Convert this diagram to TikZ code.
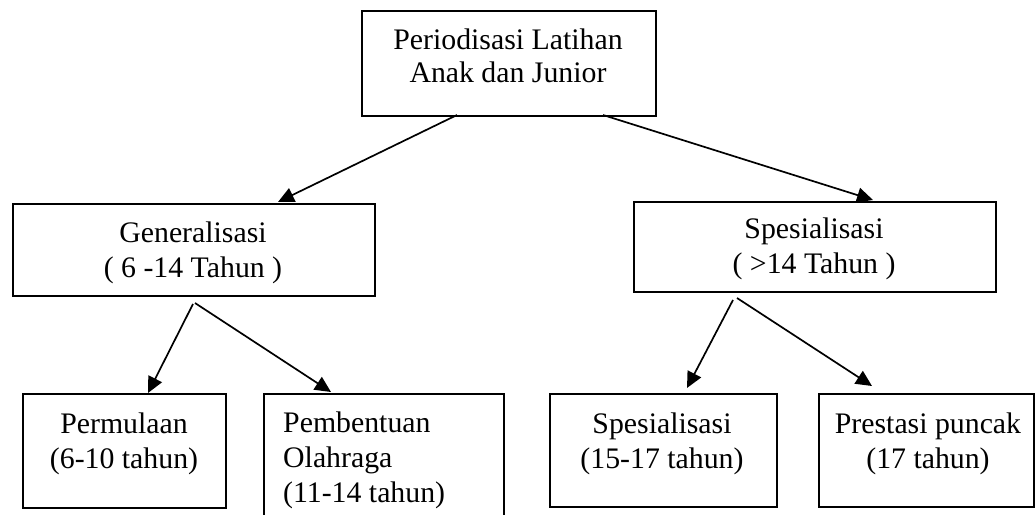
\documentclass[tikz,border=0pt]{standalone}
\usepackage{fontspec}
\setmainfont{Liberation Serif}
\usetikzlibrary{arrows.meta}
\begin{document}
\begin{tikzpicture}[x=1pt,y=-1pt,
  box/.style={draw, line width=2pt, inner sep=0pt, anchor=north west},
  txt/.style={inner sep=0pt, anchor=base, align=center, font=\fontsize{29.8}{35}\selectfont},
  txtl/.style={inner sep=0pt, anchor=base west, align=left, font=\fontsize{29.8}{35}\selectfont},
  arr/.style={line width=1.7pt, -{Triangle[length=16pt,width=15pt]}}]
\useasboundingbox[fill=white] (0,0) rectangle (1036,514);
\clip (0,0) rectangle (1036,514);
% boxes
\node[box, minimum width=294pt, minimum height=105pt] (top) at (361,10) {};
\node[box, minimum width=362pt, minimum height=92pt] (gen) at (12,203) {};
\node[box, minimum width=362pt, minimum height=90pt] (spec) at (633,201) {};
\node[box, minimum width=203pt, minimum height=114pt] (perm) at (22,393) {};
\node[box, minimum width=240pt, minimum height=140pt] (pemb) at (263,393) {};
\node[box, minimum width=227pt, minimum height=113pt] (spes) at (549,393) {};
\node[box, minimum width=215pt, minimum height=113pt] (pres) at (818,393) {};
% texts (anchor = baseline of last line)
\node[txt, font=\fontsize{29.8}{33}\selectfont] (toptxt) at (508,82) {Periodisasi Latihan\\Anak dan Junior};
\node[txt] (gentxt) at (193,277) {Generalisasi\\( 6 -14 Tahun )};
\node[txt] (spectxt) at (814,273) {Spesialisasi\\( >14 Tahun )};
\node[txt] (permtxt) at (124,468) {Permulaan\\(6-10 tahun)};
\node[txtl] (pembtxt) at (283,502) {Pembentuan\\Olahraga\\(11-14 tahun)};
\node[txt] (spestxt) at (662,468) {Spesialisasi\\(15-17 tahun)};
\node[txt] (prestxt) at (928,468) {Prestasi puncak\\(17 tahun)};
% arrows
\draw[arr] ([xshift=96pt,yshift=2pt]top.south west) -- ([xshift=266pt,yshift=1pt]gen.north west);
\draw[arr] ([xshift=242pt,yshift=2pt]top.south west) -- ([xshift=240pt,yshift=1pt]spec.north west);
\draw[arr] ([xshift=181pt,yshift=-7pt]gen.south west) -- ([xshift=126pt,yshift=0pt]perm.north west);
\draw[arr] ([xshift=183pt,yshift=-6pt]gen.south west) -- ([xshift=68pt,yshift=1pt]pemb.north west);
\draw[arr] ([xshift=100pt,yshift=-7pt]spec.south west) -- ([xshift=138pt,yshift=5pt]spes.north west);
\draw[arr] ([xshift=104pt,yshift=-5pt]spec.south west) -- ([xshift=54pt,yshift=7pt]pres.north west);
\end{tikzpicture}
\end{document}
